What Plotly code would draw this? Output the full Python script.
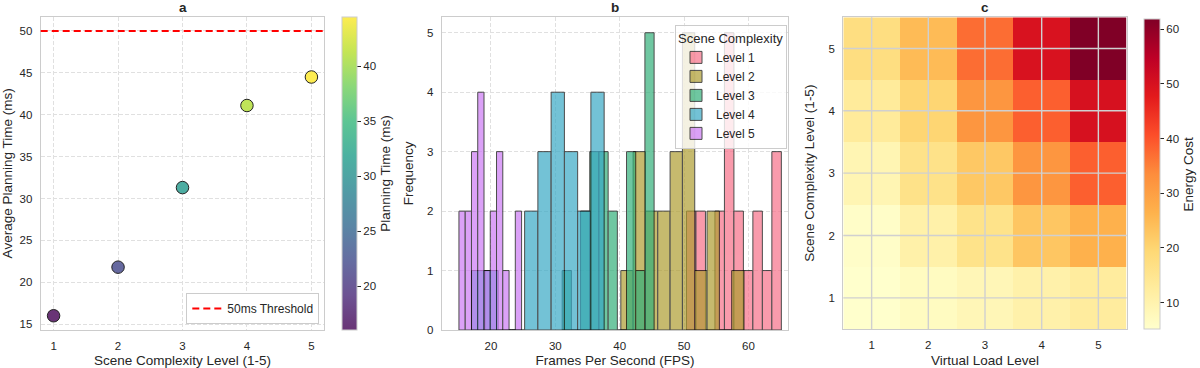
import numpy as np
import plotly.graph_objects as go

# ---------------- data ----------------
# panel a
complexity_levels = [1, 2, 3, 4, 5]
avg_planning_time = [16.0, 21.8, 31.3, 41.1, 44.5]
threshold_ms = 50

# panel b (10-bin histograms per level: bin range + counts)
level_names = ["Level 1", "Level 2", "Level 3", "Level 4", "Level 5"]
fps_min = [50.38, 40.18, 31.07, 17.00, 15.03]
fps_max = [65.12, 59.32, 45.35, 37.59, 24.76]
counts_level1 = [2, 2, 0, 2, 5, 2, 1, 2, 1, 3]
counts_level2 = [1, 3, 2, 2, 3, 5, 1, 2, 0, 1]
counts_level3 = [1, 0, 2, 3, 3, 2, 0, 3, 1, 5]
counts_level4 = [1, 1, 0, 0, 2, 3, 4, 3, 2, 4]
counts_level5 = [2, 2, 3, 4, 1, 2, 3, 1, 0, 2]
hist_counts = [counts_level1, counts_level2, counts_level3, counts_level4, counts_level5]

# panel c (rows: scene complexity 1..5, cols: virtual load 1..5)
load_levels = [1, 2, 3, 4, 5]
scene_levels = [1, 2, 3, 4, 5]
energy_row1 = [5.1, 6.8, 8.5, 10.5, 12.5]
energy_row2 = [5.7, 10.8, 15.9, 22.7, 26.5]
energy_row3 = [9.1, 16.1, 22.3, 31.7, 38.6]
energy_row4 = [13.0, 19.8, 31.7, 38.6, 50.0]
energy_row5 = [17.4, 24.7, 37.0, 49.7, 61.8]
energy = [energy_row1, energy_row2, energy_row3, energy_row4, energy_row5]

# ---------------- styles ----------------
FONT = "Liberation Sans, Arial, Helvetica, sans-serif"
TXT = "#262626"
FRAME = "#cccccc"
GRID = "#e0e0e0"
W, H = 1200, 368
TICK_SIZE = 11.5
TITLE_SIZE = 13.5

husl5 = ["#f77189", "#ae9d31", "#33b07a", "#38a9c5", "#cc7af4"]

viridis = ['#440154', '#482878', '#3e4989', '#31688e', '#26828e',
           '#1f9e89', '#35b779', '#6ece58', '#b5de2b', '#fde725']


def blend(hexc, a=0.8):
    r, g, b = int(hexc[1:3], 16), int(hexc[3:5], 16), int(hexc[5:7], 16)
    r, g, b = [round(a * v + (1 - a) * 255) for v in (r, g, b)]
    return f"rgb({r},{g},{b})"


viridis_a = [[i / (len(viridis) - 1), blend(c)] for i, c in enumerate(viridis)]
ylorrd = ["#ffffcc", "#ffeda0", "#fed976", "#feb24c", "#fd8d3c",
          "#fc4e2a", "#e31a1c", "#bd0026", "#800026"]
ylorrd_cs = [[i / (len(ylorrd) - 1), c] for i, c in enumerate(ylorrd)]


def px_x(p):
    return p / W


def px_y(p):
    return 1 - p / H


tickfont = dict(size=TICK_SIZE, color=TXT, family=FONT)
titlefont = dict(size=TITLE_SIZE, color=TXT, family=FONT)

fig = go.Figure()

# ---------------- panel a ----------------
fig.add_trace(go.Scatter(
    x=complexity_levels, y=avg_planning_time, mode="markers",
    marker=dict(size=12.5, color=avg_planning_time, colorscale=viridis_a,
                line=dict(color="#222222", width=1), showscale=True,
                colorbar=dict(x=px_x(342.3), xanchor="left", thickness=15,
                              xpad=0, ypad=0,
                              y=px_y(330), yanchor="bottom", len=(330 - 17.3) / H,
                              lenmode="fraction", outlinecolor=FRAME, outlinewidth=1,
                              ticks="outside", ticklen=4, tickcolor=TXT,
                              tickvals=[20, 25, 30, 35, 40],
                              tickfont=tickfont,
                              title=dict(text="Planning Time (ms)", side="right",
                                         font=titlefont))),
    showlegend=False, xaxis="x", yaxis="y"))

fig.add_shape(type="line", xref="x domain", x0=0, x1=1, yref="y",
              y0=threshold_ms, y1=threshold_ms,
              line=dict(color="red", width=2, dash="7px,4px"),
              showlegend=True, name=f"{threshold_ms}ms Threshold", legend="legend")

# ---------------- panel b ----------------
for name, color, lo, hi, cnt in zip(level_names, husl5, fps_min, fps_max, hist_counts):
    edges = np.linspace(lo, hi, len(cnt) + 1)
    centers = (edges[:-1] + edges[1:]) / 2
    width = edges[1] - edges[0]
    fig.add_trace(go.Bar(
        x=centers, y=cnt, width=width, name=name,
        marker=dict(color=color, line=dict(color="black", width=1)),
        opacity=0.7, xaxis="x2", yaxis="y2", legend="legend2"))

# ---------------- panel c ----------------
fig.add_trace(go.Heatmap(
    z=energy, x=load_levels, y=scene_levels, colorscale=ylorrd_cs,
    colorbar=dict(x=px_x(1144.3), xanchor="left", thickness=15.5,
                  xpad=0, ypad=0,
                  y=px_y(329.3), yanchor="bottom", len=(329.3 - 19.3) / H,
                  lenmode="fraction", outlinecolor=FRAME, outlinewidth=1,
                  ticks="outside", ticklen=4, tickcolor=TXT,
                  tickvals=[10, 20, 30, 40, 50, 60],
                  tickfont=tickfont,
                  title=dict(text="Energy Cost", side="right", font=titlefont)),
    xaxis="x3", yaxis="y3"))

for v in load_levels:
    fig.add_shape(type="line", xref="x3", yref="y3 domain", x0=v, x1=v, y0=0, y1=1,
                  line=dict(color="#d0d0d0", width=1.4), layer="above")
for v in scene_levels:
    fig.add_shape(type="line", xref="x3 domain", yref="y3", x0=0, x1=1, y0=v, y1=v,
                  line=dict(color="#d0d0d0", width=1.4), layer="above")


# ---------------- axes ----------------
def ax(domain, title, anchor, rng, tickvals, grid=True, dash="4px,2px", standoff=10):
    return dict(domain=domain, anchor=anchor, range=rng, tickvals=tickvals,
                showline=True, mirror=True, linecolor=FRAME, linewidth=1.2,
                showgrid=grid, gridcolor=GRID, griddash=dash, gridwidth=1,
                zeroline=False, ticks="outside", ticklen=5, tickcolor="rgba(0,0,0,0)",
                tickfont=tickfont, automargin=False,
                title=dict(text=title, font=titlefont, standoff=standoff))


ya_dom = [px_y(330), px_y(16.7)]
fig.update_layout(
    width=W, height=H, margin=dict(l=0, r=0, t=0, b=0, autoexpand=False),
    paper_bgcolor="white", plot_bgcolor="white",
    font=dict(family=FONT, color=TXT, size=11),
    barmode="overlay",
    xaxis=ax([px_x(40.7), px_x(324.3)], "Scene Complexity Level (1-5)", "y",
             [0.8, 5.2], complexity_levels),
    yaxis=ax(ya_dom, "Average Planning Time (ms)", "x",
             [14.3, 51.7], [15, 20, 25, 30, 35, 40, 45, 50]),
    xaxis2=ax([px_x(441.7), px_x(788.3)], "Frames Per Second (FPS)", "y2",
              [12.35, 66.2], [20, 30, 40, 50, 60]),
    yaxis2=ax(ya_dom, "Frequency", "x2", [0, 5.27], [0, 1, 2, 3, 4, 5]),
    xaxis3=ax([px_x(843.3), px_x(1126.7)], "Virtual Load Level", "y3",
              [0.5, 5.5], load_levels, grid=False),
    yaxis3=ax([px_y(329), px_y(17.3)], "Scene Complexity Level (1-5)", "x3",
              [0.5, 5.5], scene_levels, grid=False),
    legend=dict(x=px_x(319.3), xanchor="right", y=px_y(324), yanchor="bottom",
                bgcolor="white", bordercolor=FRAME, borderwidth=1,
                font=dict(size=12, color=TXT, family=FONT)),
    legend2=dict(x=px_x(787), xanchor="right", y=px_y(25), yanchor="top",
                 bgcolor="rgba(255,255,255,0.8)", bordercolor=FRAME, borderwidth=1,
                 font=dict(size=12, color=TXT, family=FONT),
                 title=dict(text="Scene Complexity", font=dict(size=13, color=TXT, family=FONT)),
                 tracegroupgap=0),
)

for xr, lbl in [("x domain", "a"), ("x2 domain", "b"), ("x3 domain", "c")]:
    fig.add_annotation(xref=xr, x=0.5, yref="paper", y=px_y(7), text=f"<b>{lbl}</b>",
                       showarrow=False, font=dict(size=13.5, color=TXT, family=FONT),
                       xanchor="center", yanchor="middle")

fig.write_html("out.html", config={"displayModeBar": False},
               post_script="document.body.style.margin='0';document.body.style.padding='0';")
